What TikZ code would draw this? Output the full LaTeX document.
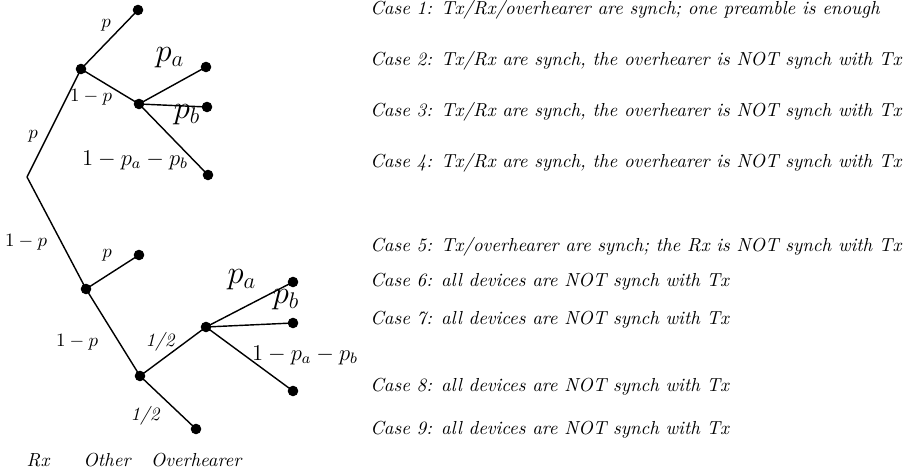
\documentclass[tikz,border=0pt]{standalone}
\begin{document}
\begin{tikzpicture}[x=0.53pt,y=-0.53pt,
  dot/.style={circle,fill=black,inner sep=0pt,minimum size=5.6pt},
  edge/.style={line width=0.75pt},
  lbl/.style={inner sep=0pt},
  big/.style={inner sep=0pt,font=\LARGE},
  mid/.style={inner sep=0pt,font=\large},
  casetxt/.style={anchor=west,inner sep=0pt,font=\itshape}]
\useasboundingbox (0,0) rectangle (912,472);
% upper tree
\coordinate (R) at (27,177);
\node[dot] (A) at (81,69) {};
\node[dot] (L1) at (138,10) {};
\node[dot] (B) at (139,104) {};
\node[dot] (L2) at (206,67) {};
\node[dot] (L3) at (207,107) {};
\node[dot] (L4) at (208,175) {};
% lower tree
\node[dot] (C) at (86,289) {};
\node[dot] (L5) at (139,255) {};
\node[dot] (D) at (140,376) {};
\node[dot] (E) at (206,327) {};
\node[dot] (L6) at (293,282) {};
\node[dot] (L7) at (293,323) {};
\node[dot] (L8) at (293,391) {};
\node[dot] (L9) at (196,429) {};
% edges
\draw[edge] (R) -- (A.center);
\draw[edge] (A.center) -- (L1.center);
\draw[edge] (A.center) -- (B.center);
\draw[edge] (B.center) -- (L2.center);
\draw[edge] (B.center) -- (L3.center);
\draw[edge] (B.center) -- (L4.center);
\draw[edge] (R) -- (C.center);
\draw[edge] (C.center) -- (L5.center);
\draw[edge] (C.center) -- (D.center);
\draw[edge] (D.center) -- (E.center);
\draw[edge] (D.center) -- (L9.center);
\draw[edge] (E.center) -- (L6.center);
\draw[edge] (E.center) -- (L7.center);
\draw[edge] (E.center) -- (L8.center);
% labels upper
\node[lbl] (t1) at (106,25) {$p$};
\node[lbl] (t2) at (91,97) {$1-p$};
\node[lbl] (t3) at (33,136) {$p$};
\node[big] (t4) at (170,58) {$p_a$};
\node[big] (t5) at (187,115) {$p_b$};
\node[mid] (t6) at (135,160) {$1-p_a-p_b$};
% labels lower
\node[lbl] (t7) at (26,242) {$1-p$};
\node[lbl] (t8) at (107,255) {$p$};
\node[lbl] (t9) at (77,342) {$1-p$};
\node[lbl,font=\itshape] (t10) at (160,342) {1/2};
\node[lbl,font=\itshape] (t11) at (145,416) {1/2};
\node[big] (t12) at (242,280) {$p_a$};
\node[big] (t13) at (286,300) {$p_b$};
\node[mid] (t14) at (305,355) {$1-p_a-p_b$};
% bottom
\node[lbl,font=\itshape] (b1) at (38,460) {Rx};
\node[lbl,font=\itshape] (b2) at (107,460) {Other};
\node[lbl,font=\itshape] (b3) at (196,460) {Overhearer};
% cases
\node[casetxt] (c1) at (370,10) {Case 1: Tx/Rx/overhearer are synch; one preamble is enough};
\node[casetxt] (c2) at (370,61) {Case 2: Tx/Rx are synch, the overhearer is NOT synch with Tx};
\node[casetxt] (c3) at (370,112) {Case 3: Tx/Rx are synch, the overhearer is NOT synch with Tx};
\node[casetxt] (c4) at (370,163) {Case 4: Tx/Rx are synch, the overhearer is NOT synch with Tx};
\node[casetxt] (c5) at (370,247) {Case 5: Tx/overhearer are synch; the Rx is NOT synch with Tx};
\node[casetxt] (c6) at (370,282) {Case 6: all devices are NOT synch with Tx};
\node[casetxt] (c7) at (370,320) {Case 7: all devices are NOT synch with Tx};
\node[casetxt] (c8) at (370,387) {Case 8: all devices are NOT synch with Tx};
\node[casetxt] (c9) at (370,430) {Case 9: all devices are NOT synch with Tx};
\end{tikzpicture}
\end{document}
